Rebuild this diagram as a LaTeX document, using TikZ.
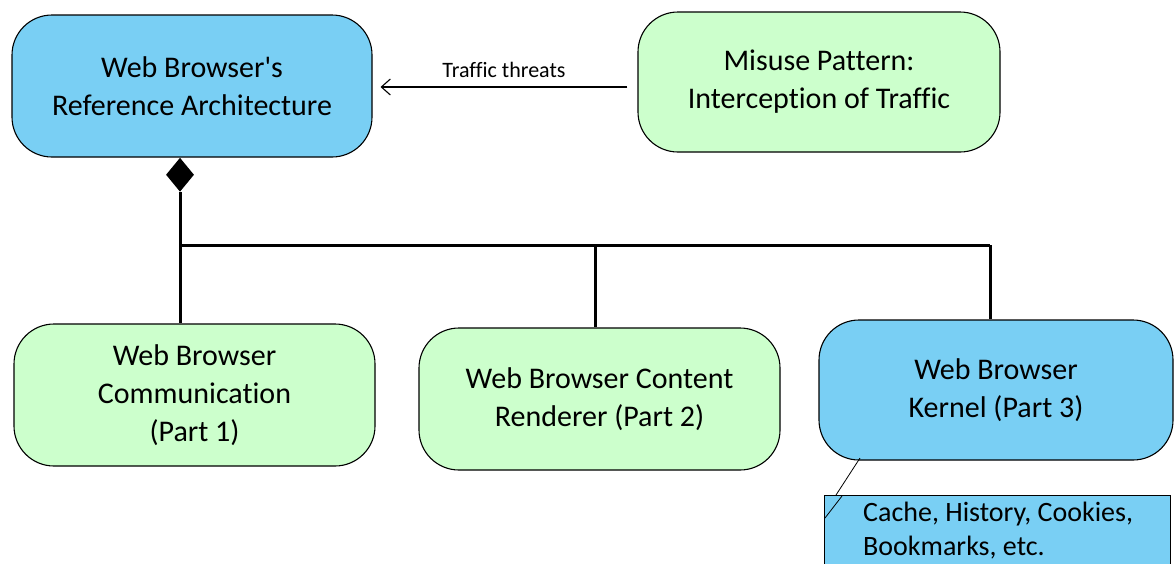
\documentclass[tikz,border=0pt]{standalone}
\usepackage{fontspec}
\setmainfont{Carlito}[Ligatures=NoCommon]
\usetikzlibrary{shapes.geometric,arrows.meta,calc}
\definecolor{boxblue}{HTML}{79CFF4}
\definecolor{boxgreen}{HTML}{CCFFCC}
\tikzset{
  box/.style={draw=black, line width=1.1pt, rounded corners=40pt, align=center,
    font=\fontsize{30}{38}\selectfont, inner sep=0pt},
  bluebox/.style={box, fill=boxblue},
  greenbox/.style={box, fill=boxgreen},
  link/.style={line width=3pt, draw=black},
}
\begin{document}
\begin{tikzpicture}[x=1pt,y=-1pt]
\useasboundingbox (0,0) rectangle (1174,563);
\clip (0,0) rectangle (1174,563);
\node[bluebox, minimum width=360pt, minimum height=142pt] (tl) at (192,86) {Web Browser\textquotesingle s\\Reference Architecture};
\node[greenbox, minimum width=362pt, minimum height=140pt] (tr) at (819,82) {Misuse Pattern:\\Interception of Traffic};
\node[greenbox, minimum width=361pt, minimum height=142pt] (b1) at (194.5,395) {Web Browser\\Communication\\(Part 1)};
\node[greenbox, minimum width=361pt, minimum height=142pt] (b2) at (599.5,399) {Web Browser Content\\Renderer (Part 2)};
\node[bluebox, minimum width=354pt, minimum height=140pt] (b3) at (996,390) {Web Browser\\Kernel (Part 3)};
% note
\node[draw=black, line width=0.9pt, fill=boxblue, minimum width=346pt, minimum height=110pt, inner sep=0pt] (note) at (997,550) {};
\node[anchor=north west, align=left, font=\fontsize{28}{34}\selectfont, inner sep=0pt] (notetext) at (863,502) {Cache, History, Cookies,\\Bookmarks, etc.};
\coordinate (fa) at (825,518);
\coordinate (fb) at (842,496);
\draw[line width=0.8pt] (fa) -- (fb);
\coordinate (k) at (860,458);
\coordinate (kn) at (836,495);
\draw[line width=0.8pt] (k) -- (kn);
% arrow
\draw[line width=1.1pt, -{Straight Barb[length=9pt,width=16pt,line width=1.1pt]}] ($(tr.west)+(-10,5)$) -- ($(tl.east)+(8,1)$)
  node[midway, above=5pt, font=\fontsize{22}{24}\selectfont, text=black] (lbl) {Traffic threats};
% diamond
\node[diamond, fill=black, minimum width=28pt, minimum height=34pt, inner sep=0pt, anchor=north] (dia) at ($(tl.south)+(-12,0)$) {};
\coordinate (j1) at (180,245);
\coordinate (j2) at (595,245);
\coordinate (j3) at (990,245);
\draw[link] (dia.south) -- (dia.south |- b1.north);
\draw[link] (j1) -- (j3);
\draw[link] (j2) -- (j2 |- b2.north);
\draw[link] (j3) -- (j3 |- b3.north);
\end{tikzpicture}
\end{document}
